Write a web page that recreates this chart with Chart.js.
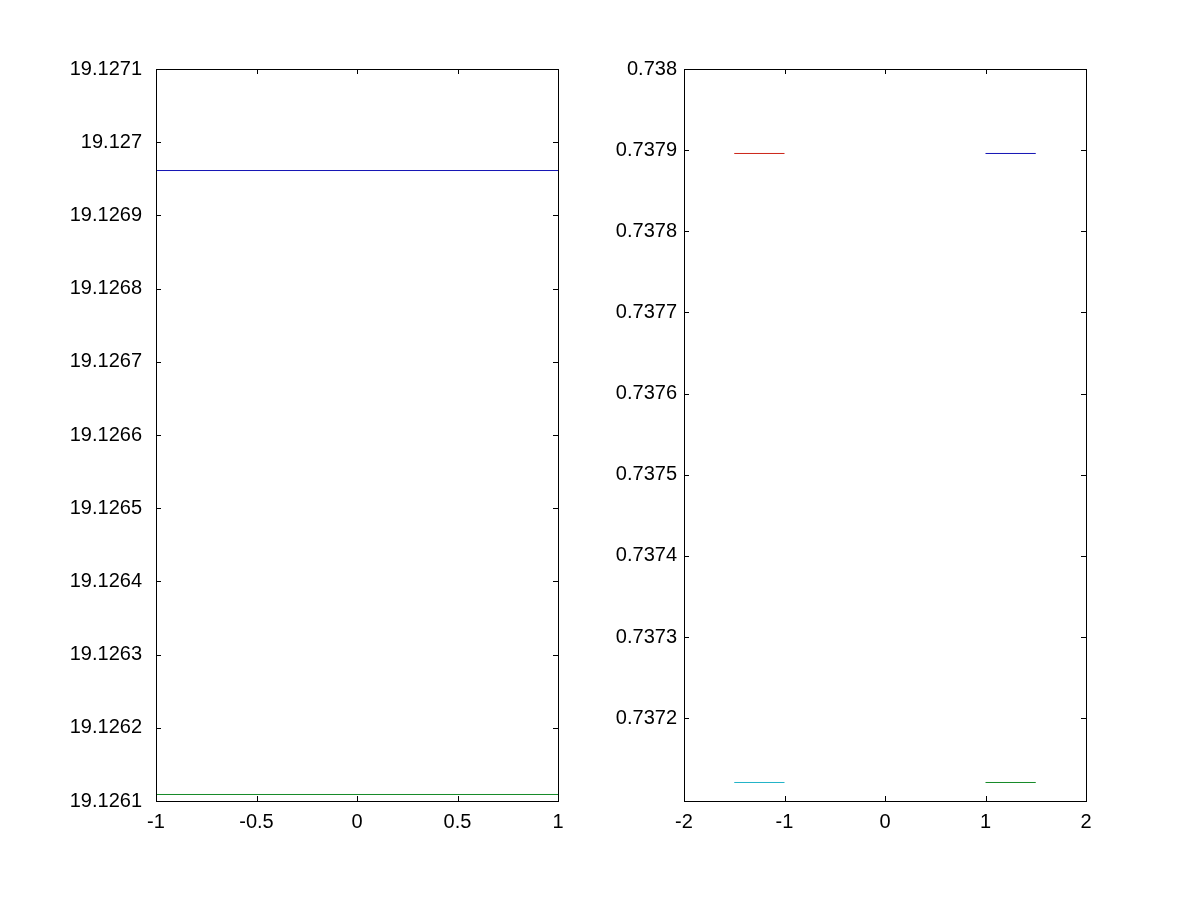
<!DOCTYPE html>
<html>
<head>
<meta charset="utf-8">
<script src="https://cdn.jsdelivr.net/npm/chart.js@4/dist/chart.umd.min.js"></script>
<style>
    body { margin: 0; background: #fff; }
    #wrap { position: relative; width: 1200px; height: 900px; background: #fff; }
    canvas { position: absolute; top: 0; }
</style>
</head>
<body>
<div id="wrap">
    <canvas id="left-chart" width="600" height="900" style="left:0"></canvas>
    <canvas id="right-chart" width="600" height="900" style="left:600px"></canvas>
</div>
<script>
// left subplot
const leftX = [-1, 1];
const leftBlue = [19.1269613, 19.1269613];
const leftGreen = [19.1261089, 19.1261089];
const leftXTicks = [-1, -0.5, 0, 0.5, 1];
const leftXLabels = ["-1", "-0.5", "0", "0.5", "1"];
const leftYTicks = [19.1261, 19.1262, 19.1263, 19.1264, 19.1265, 19.1266, 19.1267, 19.1268, 19.1269, 19.127, 19.1271];
const leftYLabels = ["19.1261", "19.1262", "19.1263", "19.1264", "19.1265", "19.1266", "19.1267", "19.1268", "19.1269", "19.127", "19.1271"];

// right subplot
const rightXLow = [-1.5, -1];
const rightXHigh = [1, 1.5];
const rightRed = [0.7378959, 0.7378959];
const rightCyan = [0.7371208, 0.7371208];
const rightBlue = [0.7378959, 0.7378959];
const rightGreen = [0.7371208, 0.7371208];
const rightXTicks = [-2, -1, 0, 1, 2];
const rightXLabels = ["-2", "-1", "0", "1", "2"];
const rightYTicks = [0.7372, 0.7373, 0.7374, 0.7375, 0.7376, 0.7377, 0.7378, 0.7379, 0.738];
const rightYLabels = ["0.7372", "0.7373", "0.7374", "0.7375", "0.7376", "0.7377", "0.7378", "0.7379", "0.738"];

const FONT = { family: "'Liberation Sans', Arial, sans-serif", size: 20 };
const BLUE = "#1414b4";
const GREEN = "#168a28";
const RED = "#cc2418";
const CYAN = "#22b4c8";

function pts(xs, ys) {
    return xs.map((x, i) => ({ x: x, y: ys[i] }));
}

function line(xs, ys, color) {
    return {
        data: pts(xs, ys),
        borderColor: color,
        backgroundColor: color,
        borderWidth: 1,
        pointRadius: 0,
        fill: false,
    };
}

// box and inward tick marks on all four sides, like the original
const boxTicks = {
    id: "boxTicks",
    afterDraw(chart) {
        const ctx = chart.ctx;
        const a = chart.chartArea;
        const xs = chart.scales.x;
        const ys = chart.scales.y;
        const len = 5;
        ctx.save();
        ctx.strokeStyle = "#000";
        ctx.lineWidth = 1;
        ctx.beginPath();
        xs.ticks.forEach((t) => {
            const px = Math.round(xs.getPixelForValue(t.value)) + 0.5;
            ctx.moveTo(px, a.bottom);
            ctx.lineTo(px, a.bottom - len);
            ctx.moveTo(px, a.top);
            ctx.lineTo(px, a.top + len);
        });
        ys.ticks.forEach((t) => {
            const py = Math.round(ys.getPixelForValue(t.value)) + 0.5;
            ctx.moveTo(a.left, py);
            ctx.lineTo(a.left + len, py);
            ctx.moveTo(a.right, py);
            ctx.lineTo(a.right - len, py);
        });
        ctx.stroke();
        ctx.strokeRect(Math.round(a.left) + 0.5, Math.round(a.top) + 0.5,
            Math.round(a.right - a.left), Math.round(a.bottom - a.top));
        ctx.restore();
    },
};

function makeChart(id, datasets, o) {
    return new Chart(document.getElementById(id), {
        type: "line",
        data: { datasets: datasets },
        plugins: [boxTicks],
        options: {
            responsive: false,
            animation: false,
            layout: { padding: { left: 0, right: o.padRight, top: 69, bottom: 0 } },
            plugins: { legend: { display: false }, tooltip: { enabled: false } },
            scales: {
                x: {
                    type: "linear",
                    min: o.xMin,
                    max: o.xMax,
                    grid: { display: false, drawTicks: false },
                    border: { display: false },
                    afterBuildTicks: (s) => { s.ticks = o.xTicks.map((v) => ({ value: v })); },
                    afterFit: (s) => { s.height = 99; },
                    ticks: {
                        color: "#000",
                        font: FONT,
                        padding: 9,
                        maxRotation: 0,
                        autoSkip: false,
                        callback: (v, i) => o.xLabels[i],
                    },
                },
                y: {
                    type: "linear",
                    min: o.yMin,
                    max: o.yMax,
                    grid: { display: false, drawTicks: false },
                    border: { display: false },
                    afterBuildTicks: (s) => { s.ticks = o.yTicks.map((v) => ({ value: v })); },
                    afterFit: (s) => { s.width = o.yWidth; },
                    ticks: {
                        color: "#000",
                        font: FONT,
                        padding: o.yPad,
                        autoSkip: false,
                        callback: (v, i) => o.yLabels[i],
                    },
                },
            },
        },
    });
}

makeChart("left-chart", [
    line(leftX, leftBlue, BLUE),
    line(leftX, leftGreen, GREEN),
], {
    padRight: 42, yWidth: 156, yPad: 14,
    xMin: -1, xMax: 1, yMin: 19.1261, yMax: 19.1271,
    xTicks: leftXTicks, xLabels: leftXLabels,
    yTicks: leftYTicks, yLabels: leftYLabels,
});

makeChart("right-chart", [
    line(rightXLow, rightRed, RED),
    line(rightXLow, rightCyan, CYAN),
    line(rightXHigh, rightBlue, BLUE),
    line(rightXHigh, rightGreen, GREEN),
], {
    padRight: 114, yWidth: 84, yPad: 7,
    xMin: -2, xMax: 2, yMin: 0.737098, yMax: 0.738,
    xTicks: rightXTicks, xLabels: rightXLabels,
    yTicks: rightYTicks, yLabels: rightYLabels,
});
</script>
</body>
</html>
